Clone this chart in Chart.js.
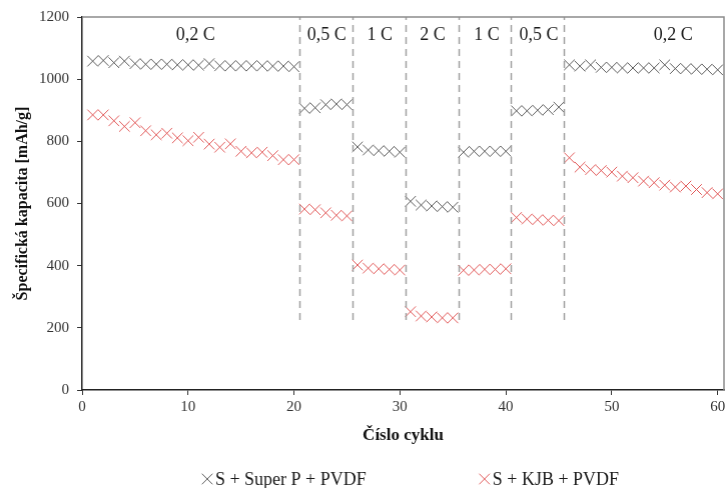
<!DOCTYPE html>
<html>
<head>
<meta charset="utf-8">
<script src="https://cdn.jsdelivr.net/npm/chart.js@4.4.1/dist/chart.umd.min.js"></script>
<style>
    html, body { margin: 0; padding: 0; background: #fff; overflow: hidden; }
    #wrap { position: relative; width: 780px; height: 488px; }
</style>
</head>
<body>
<div id="wrap"><canvas id="capacityChart" width="727" height="488"></canvas></div>
<script>
// Cycle numbers (x values)
const cycles = [
    1, 2, 3, 4, 5, 6, 7, 8, 9, 10, 11, 12, 13, 14, 15, 16, 17, 18, 19, 20,
    21, 22, 23, 24, 25, 26, 27, 28, 29, 30, 31, 32, 33, 34, 35, 36, 37, 38, 39, 40,
    41, 42, 43, 44, 45, 46, 47, 48, 49, 50, 51, 52, 53, 54, 55, 56, 57, 58, 59, 60
];

// S + Super P + PVDF
const superPValues = [
    1058, 1060, 1053, 1058, 1050, 1048, 1048, 1048, 1046, 1046,
    1045, 1050, 1043, 1043, 1043, 1043, 1043, 1042, 1042, 1040,
    906, 908, 918, 920, 918,
    782, 772, 770, 768, 765,
    607, 595, 592, 590, 588,
    765, 768, 768, 768, 768,
    898, 898, 900, 902, 910,
    1046, 1042, 1046, 1038, 1038, 1036, 1036, 1036, 1036, 1046,
    1034, 1034, 1032, 1032, 1030
];

// S + KJB + PVDF
const kjbValues = [
    885, 885, 866, 848, 860, 834, 821, 826, 811, 802,
    813, 791, 781, 792, 768, 763, 765, 754, 741, 741,
    582, 580, 570, 562, 560,
    402, 392, 390, 388, 386,
    252, 238, 235, 232, 232,
    385, 386, 388, 388, 390,
    555, 550, 548, 546, 545,
    747, 717, 709, 706, 701, 688, 683, 672, 667, 659,
    653, 656, 645, 635, 631
];

// C-rate steps: boundaries between steps, labels and where the label sits
const rateBoundaries = [20.5, 25.5, 30.5, 35.5, 40.5, 45.5];
const rateLabels = ['0,2 C', '0,5 C', '1 C', '2 C', '1 C', '0,5 C', '0,2 C'];
const rateLabelX = [10.7, 23.1, 28.1, 33.1, 38.2, 43.1, 55.8];

const xTicks = [0, 10, 20, 30, 40, 50, 60];
const yTicks = [0, 200, 400, 600, 800, 1000, 1200];

const seriesNames = ['S + Super P + PVDF', 'S + KJB + PVDF'];
const seriesColors = ['#5c5c5c', '#e25a5a'];

const SERIF = "'Liberation Serif', 'Times New Roman', serif";
const PLOT_RIGHT = 723;

const toPoints = (values) => values.map((v, i) => ({ x: cycles[i], y: v }));

// Dashed separators, rate labels and the grey frame on top/right
const rateStepsPlugin = {
    id: 'rateSteps',
    afterDatasetsDraw(chart) {
        const { ctx, chartArea, scales } = chart;
        const x = scales.x;
        const y = scales.y;

        ctx.save();
        ctx.strokeStyle = '#a0a0a0';
        ctx.lineWidth = 1.5;
        ctx.setLineDash([7, 5]);
        rateBoundaries.forEach(b => {
            const px = Math.round(x.getPixelForValue(b)) + 0.5;
            ctx.beginPath();
            ctx.moveTo(px, y.getPixelForValue(225));
            ctx.lineTo(px, chartArea.top);
            ctx.stroke();
        });
        ctx.setLineDash([]);

        ctx.strokeStyle = '#8c8c8c';
        ctx.lineWidth = 1.5;
        ctx.beginPath();
        ctx.moveTo(chartArea.left, chartArea.top);
        ctx.lineTo(chartArea.right, chartArea.top);
        ctx.lineTo(chartArea.right, chartArea.bottom);
        ctx.stroke();

        ctx.fillStyle = '#1a1a1a';
        ctx.font = `18px ${SERIF}`;
        ctx.textAlign = 'center';
        ctx.textBaseline = 'middle';
        rateLabels.forEach((label, i) => {
            ctx.fillText(label, x.getPixelForValue(rateLabelX[i]), y.getPixelForValue(1142));
        });
        ctx.restore();
    }
};

// Legend drawn under the axis title, spaced like the original
const bottomLegendPlugin = {
    id: 'bottomLegend',
    afterDraw(chart) {
        const { ctx } = chart;
        const gap = 113;
        const markerW = 13;
        ctx.save();
        ctx.font = `18px ${SERIF}`;
        ctx.textBaseline = 'middle';
        ctx.textAlign = 'left';
        const widths = seriesNames.map(n => markerW + ctx.measureText(n).width);
        const total = widths[0] + gap + widths[1];
        let left = 410 - total / 2;
        const cy = 479;
        seriesNames.forEach((name, i) => {
            ctx.strokeStyle = seriesColors[i];
            Chart.helpers.drawPoint(ctx, {
                pointStyle: 'crossRot',
                radius: 7.5,
                borderWidth: 1
            }, left + 5, cy);
            ctx.fillStyle = '#1a1a1a';
            ctx.fillText(name, left + markerW, cy + 1);
            left += widths[i] + gap;
        });
        ctx.restore();
    }
};

const ctx = document.getElementById('capacityChart').getContext('2d');
const chart = new Chart(ctx, {
    type: 'scatter',
    data: {
        datasets: [
            {
                label: seriesNames[0],
                data: toPoints(superPValues),
                borderColor: seriesColors[0],
                backgroundColor: seriesColors[0],
                pointStyle: 'crossRot',
                pointRadius: 7.5,
                pointBorderWidth: 1
            },
            {
                label: seriesNames[1],
                data: toPoints(kjbValues),
                borderColor: seriesColors[1],
                backgroundColor: seriesColors[1],
                pointStyle: 'crossRot',
                pointRadius: 7.5,
                pointBorderWidth: 1
            }
        ]
    },
    options: {
        responsive: false,
        maintainAspectRatio: false,
        animation: false,
        layout: { padding: { top: 15, right: 4, bottom: 40, left: 0 } },
        plugins: {
            legend: { display: false },
            tooltip: { enabled: false }
        },
        scales: {
            x: {
                type: 'linear',
                min: 0,
                max: 60.6,
                afterBuildTicks: (scale) => { scale.ticks = xTicks.map(v => ({ value: v })); },
                afterFit: (scale) => {
                    scale.height = 58;
                    scale.paddingRight = 0;
                    scale.paddingLeft = 0;
                },
                grid: { drawOnChartArea: false, tickLength: 5, color: '#333' },
                border: { color: '#222', width: 1.5 },
                ticks: {
                    padding: 3,
                    maxRotation: 0,
                    color: '#333',
                    font: { family: SERIF, size: 15 }
                },
                title: {
                    display: true,
                    text: 'Číslo cyklu',
                    color: '#111',
                    padding: { top: 4, bottom: 2 },
                    font: { family: SERIF, size: 17, weight: 'bold' }
                }
            },
            y: {
                min: 0,
                max: 1200,
                afterBuildTicks: (scale) => { scale.ticks = yTicks.map(v => ({ value: v })); },
                afterFit: (scale) => { scale.width = 82; },
                grid: { drawOnChartArea: false, tickLength: 5, color: '#333' },
                border: { color: '#222', width: 1.5 },
                ticks: {
                    padding: 8,
                    color: '#333',
                    font: { family: SERIF, size: 15 },
                    callback: (value) => String(value)
                },
                title: {
                    display: true,
                    text: 'Špecifická kapacita [mAh/g]',
                    color: '#111',
                    padding: { top: 13, bottom: 0 },
                    font: { family: SERIF, size: 16, weight: 'bold' }
                }
            }
        }
    },
    plugins: [rateStepsPlugin, bottomLegendPlugin]
});

// The x axis keeps some room for its last label; widen the canvas a little
// so the plot area ends where the original frame does (extra part is off-screen)
const shift = PLOT_RIGHT - chart.chartArea.right;
if (Math.abs(shift) > 0.5) {
    chart.resize(727 + shift, 488);
}
</script>
</body>
</html>
